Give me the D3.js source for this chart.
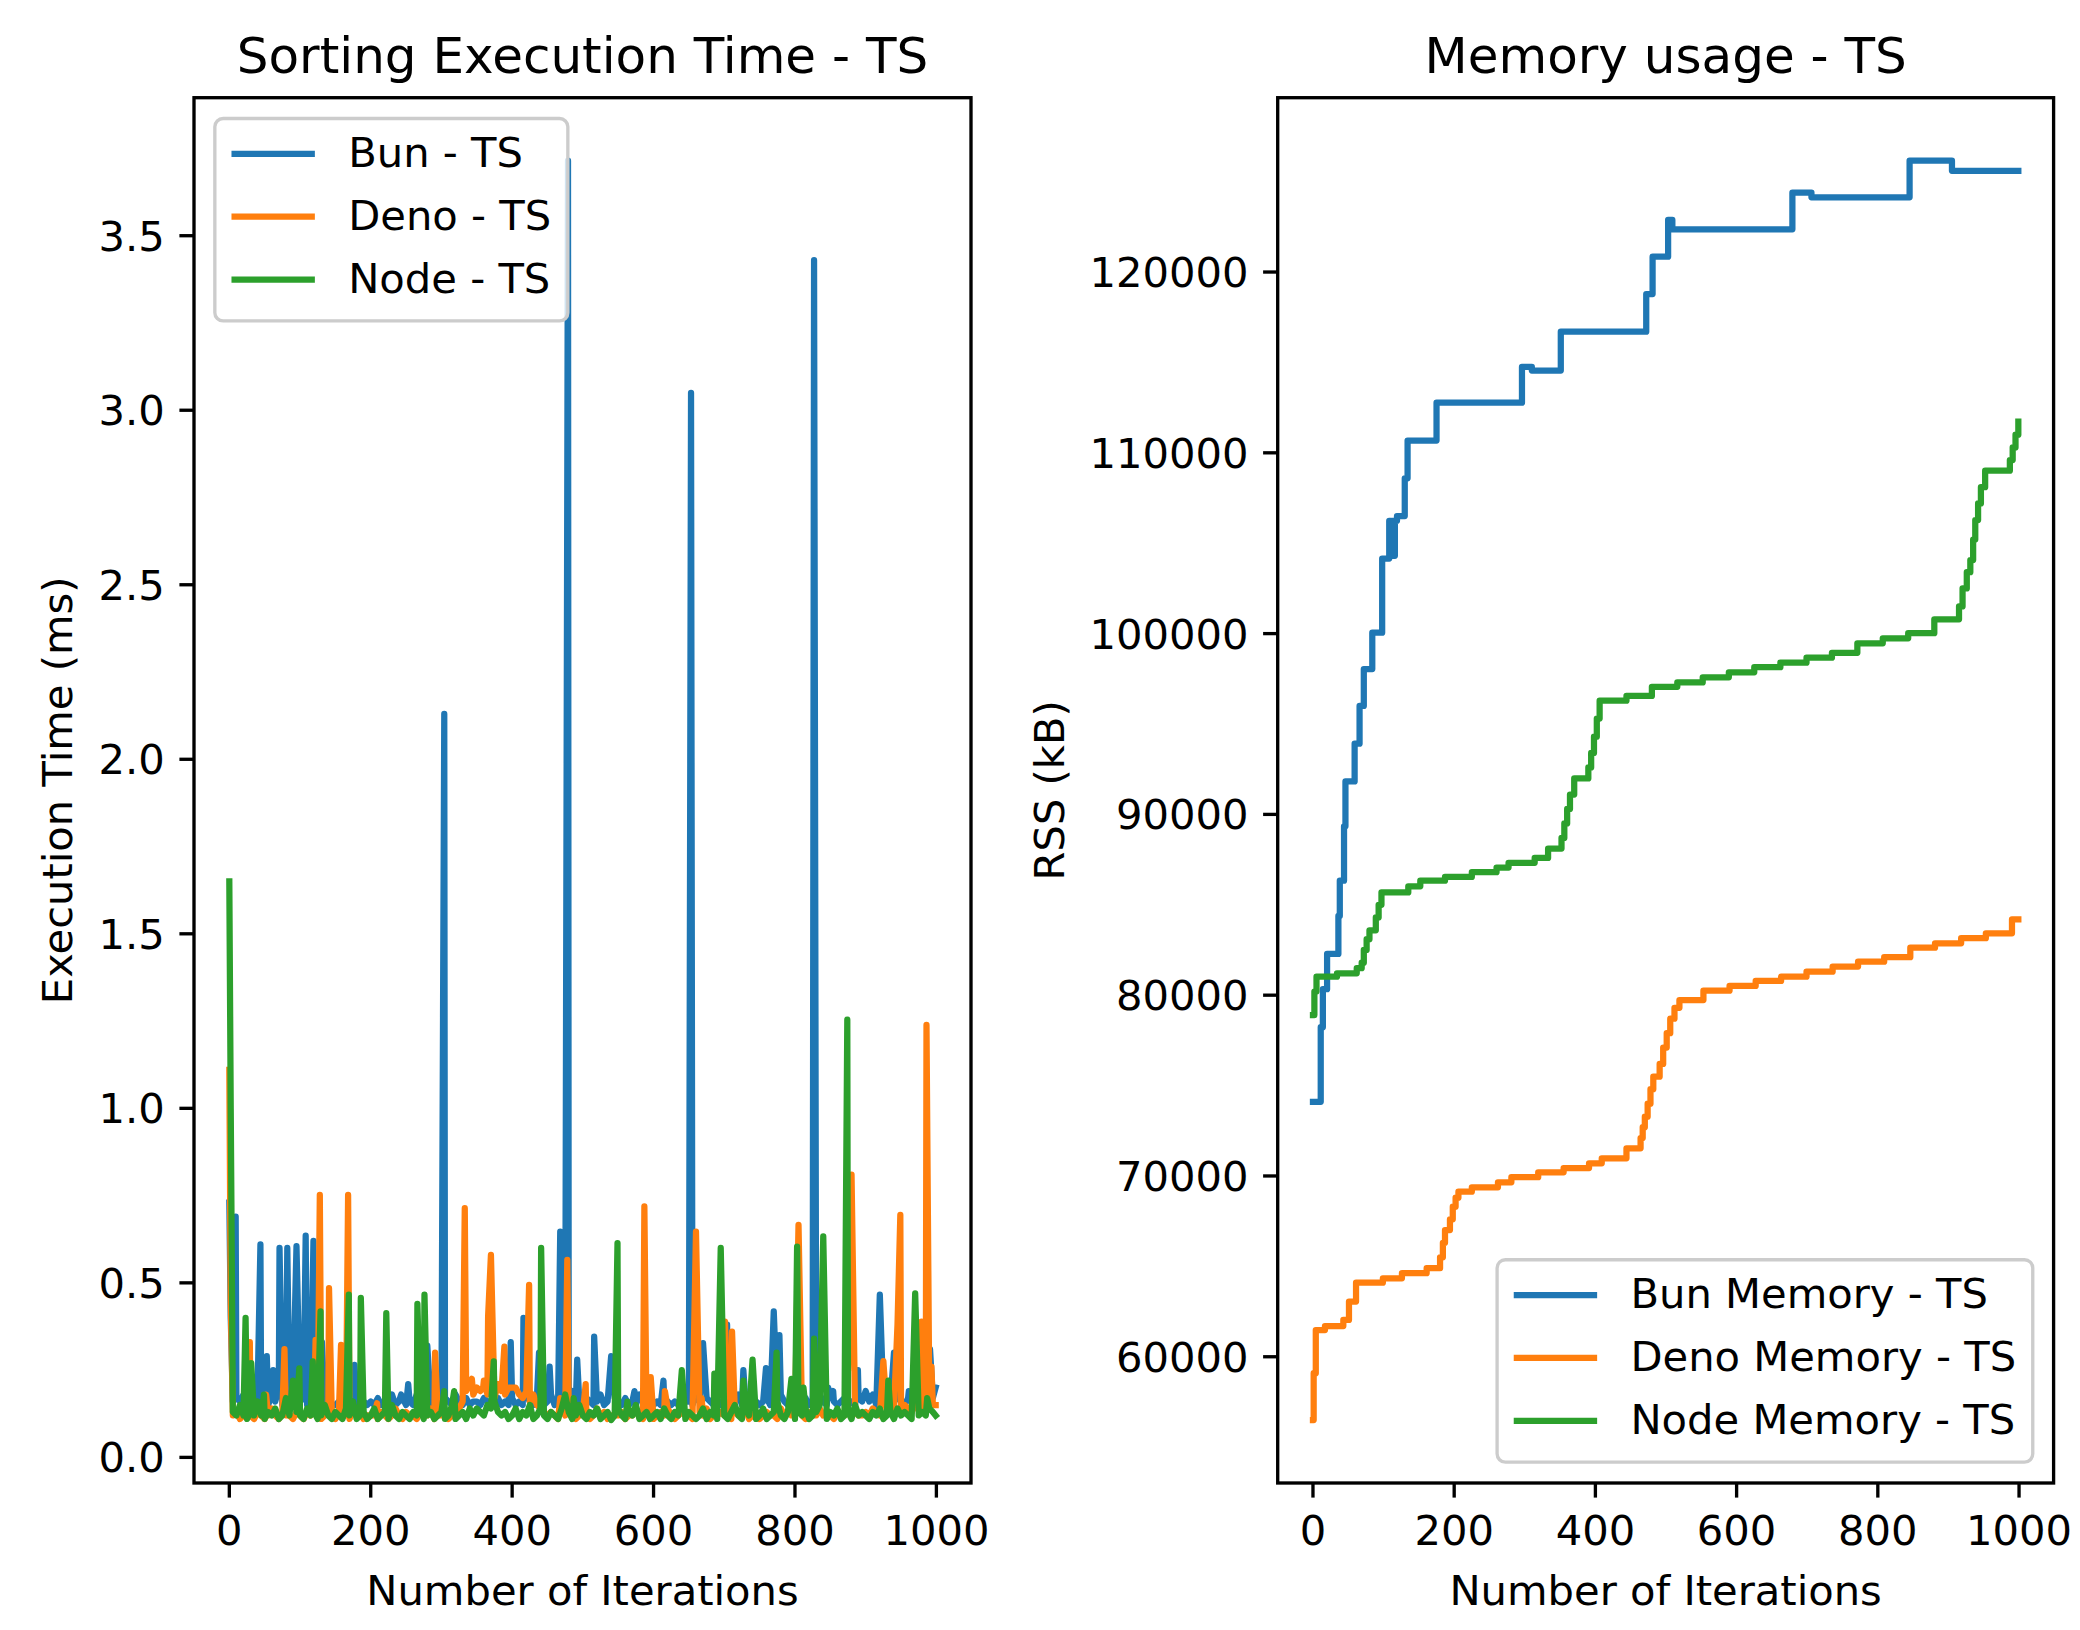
<!DOCTYPE html>
<html><head><meta charset="utf-8">
<script src="https://cdn.jsdelivr.net/npm/d3@7"></script>
<style>
body{margin:0;background:#fff}
svg{display:block}
text{font-family:"DejaVu Sans",sans-serif;fill:#000}
</style>
</head><body>
<svg id="chart" width="2080" height="1630"></svg>
<script>
// ---------- data ----------
const xTicks = [0, 200, 400, 600, 800, 1000];
const timeTicks = [0, 0.5, 1, 1.5, 2, 2.5, 3, 3.5];
const memTicks = [60000, 70000, 80000, 90000, 100000, 110000, 120000];
const timeLegend = ["Bun - TS", "Deno - TS", "Node - TS"];
const memLegend = ["Bun Memory - TS", "Deno Memory - TS", "Node Memory - TS"];
const colors = ["#1f77b4", "#ff7f0e", "#2ca02c"];
const baseStep = 5; // baseline samples every 5 iterations

const bunTimeBase = [
.16,.16,.17,.16,.18,.15,.17,.16,.19,.16,
.17,.15,.18,.16,.2,.15,.17,.16,.18,.15,
.16,.17,.15,.16,.15,.17,.16,.15,.16,.15,
.15,.16,.15,.17,.15,.16,.15,.15,.16,.15,
.16,.15,.17,.15,.16,.15,.18,.15,.16,.17,
.15,.16,.15,.18,.16,.15,.19,.15,.17,.16,
.15,.17,.16,.15,.18,.16,.15,.17,.15,.16,
.16,.15,.17,.16,.15,.16,.17,.15,.16,.15,
.17,.15,.16,.15,.18,.16,.15,.17,.16,.15,
.16,.18,.15,.16,.17,.15,.16,.19,.15,.16,
.15,.17,.16,.15,.16,.18,.15,.16,.15,.17,
.16,.15,.17,.15,.16,.15,.18,.16,.15,.16,
.15,.16,.15,.17,.16,.15,.16,.15,.17,.16,
.16,.15,.18,.16,.15,.17,.16,.15,.16,.15,
.17,.16,.15,.16,.18,.15,.16,.17,.15,.16,
.15,.16,.17,.15,.16,.15,.18,.16,.15,.17,
.16,.15,.16,.17,.15,.16,.15,.18,.16,.15,
.17,.16,.15,.16,.17,.15,.16,.15,.17,.16,
.15,.16,.18,.15,.16,.17,.15,.16,.15,.17,
.16,.15,.17,.16,.15,.18,.16,.17,.16,.17];
const bunTimeSpikes = [[0,0.73],[2,0.4],[9,0.69],[44,0.61],[53,0.29],[62,0.25],[71,0.6],[82,0.6],[95,0.605],[108,0.635],[119,0.62],[131,0.33],[177,0.265],[243,0.18],[253,0.21],[280,0.32],[304,2.13],[398,0.33],[416,0.4],[438,0.3],[453,0.26],[468,0.647],[479,3.715],[492,0.28],[516,0.346],[540,0.29],[573,0.19],[614,0.22],[653,3.05],[670,0.327],[704,0.38],[727,0.25],[759,0.256],[770,0.418],[778,0.35],[827,3.43],[834,0.29],[847,0.2],[854,0.19],[889,0.25],[900,0.19],[920,0.466],[940,0.3],[961,0.19],[991,0.31],[999,0.2]];

const denoTimeBase = [
.12,.12,.13,.11,.12,.14,.12,.11,.13,.12,
.11,.12,.14,.12,.11,.13,.12,.12,.11,.13,
.12,.11,.13,.12,.14,.12,.11,.12,.13,.12,
.11,.13,.12,.12,.11,.14,.12,.13,.11,.12,
.12,.12,.11,.13,.12,.11,.12,.14,.12,.11,
.13,.12,.12,.11,.13,.12,.12,.14,.11,.12,
.12,.13,.11,.12,.12,.14,.16,.19,.21,.18,
.2,.19,.22,.18,.2,.17,.21,.19,.18,.2,
.19,.2,.18,.17,.19,.16,.18,.15,.14,.13,
.12,.13,.12,.11,.14,.12,.13,.12,.11,.12,
.13,.12,.11,.12,.14,.12,.13,.11,.12,.12,
.12,.13,.11,.12,.12,.14,.12,.11,.13,.12,
.11,.12,.13,.12,.14,.12,.11,.12,.13,.12,
.12,.11,.12,.13,.12,.14,.11,.12,.12,.13,
.12,.12,.11,.13,.12,.12,.14,.11,.12,.13,
.11,.12,.13,.12,.12,.11,.14,.12,.13,.12,
.12,.13,.12,.11,.13,.12,.12,.14,.12,.13,
.12,.11,.13,.12,.12,.14,.12,.13,.12,.12,
.13,.12,.14,.13,.12,.14,.13,.15,.14,.13,
.14,.15,.14,.13,.15,.14,.15,.14,.16,.15];
const denoTimeSpikes = [[0,1.11],[2,0.45],[29,0.33],[52,0.18],[78,0.31],[122,0.337],[128,0.752],[141,0.485],[158,0.322],[168,0.752],[209,0.155],[291,0.3],[333,0.714],[343,0.225],[359,0.2],[366,0.404],[370,0.58],[389,0.317],[400,0.2],[424,0.494],[468,0.17],[478,0.566],[504,0.21],[587,0.719],[596,0.23],[616,0.19],[660,0.647],[668,0.17],[701,0.389],[711,0.36],[805,0.666],[875,0.25],[880,0.81],[925,0.276],[945,0.38],[949,0.695],[979,0.389],[986,1.239],[993,0.26],[999,0.15]];

const nodeTimeBase = [
.12,.13,.12,.15,.12,.11,.13,.12,.16,.12,
.11,.13,.12,.14,.11,.12,.17,.12,.11,.13,
.12,.11,.14,.12,.13,.11,.12,.15,.12,.11,
.13,.12,.11,.14,.12,.16,.11,.12,.13,.11,
.12,.14,.11,.12,.13,.11,.15,.12,.11,.13,
.12,.11,.13,.12,.14,.11,.12,.13,.11,.12,
.13,.11,.12,.15,.11,.12,.13,.11,.14,.12,
.14,.13,.12,.15,.14,.16,.13,.12,.13,.11,
.12,.14,.11,.13,.12,.15,.11,.12,.14,.12,
.11,.13,.12,.11,.14,.12,.13,.11,.12,.15,
.12,.11,.13,.12,.14,.11,.12,.13,.107,.12,
.14,.12,.11,.13,.12,.15,.11,.12,.13,.11,
.12,.13,.11,.14,.12,.11,.13,.12,.16,.11,
.13,.12,.11,.12,.14,.11,.13,.12,.11,.14,
.12,.11,.13,.15,.12,.11,.14,.12,.13,.11,
.12,.14,.11,.12,.13,.16,.12,.11,.13,.12,
.11,.13,.12,.14,.11,.12,.13,.15,.12,.11,
.13,.12,.14,.11,.12,.13,.11,.15,.12,.13,
.12,.11,.13,.12,.14,.11,.12,.13,.11,.14,
.12,.13,.12,.11,.14,.12,.13,.12,.14,.13];
const nodeTimeSpikes = [[0,1.65],[2,1.0],[23,0.4],[31,0.27],[49,0.18],[90,0.22],[99,0.255],[118,0.275],[129,0.418],[169,0.466],[186,0.457],[222,0.413],[266,0.44],[276,0.466],[304,0.19],[318,0.19],[374,0.275],[441,0.6],[475,0.18],[487,0.17],[549,0.614],[563,0.16],[640,0.25],[686,0.24],[695,0.6],[727,0.22],[740,0.28],[774,0.3],[795,0.225],[803,0.604],[812,0.2],[827,0.34],[840,0.633],[874,1.254],[932,0.22],[970,0.47],[987,0.17],[999,0.12]];

// memory: [iteration where value changes, RSS kB]
const bunMem = [[0,74100],[11,78230],[14,80330],[20,82280],[36,84380],[38,86330],[44,89340],[46,91820],[59,93910],[66,96000],[72,98040],[84,100050],[98,104150],[108,106240],[110,104300],[112,106240],[114,104300],[116,106240],[119,106500],[130,108590],[134,110680],[175,112770],[296,114750],[310,114550],[351,116700],[472,118780],[481,120850],[503,122880],[509,122360],[679,124390],[706,124130],[845,126160],[905,125600],[999,125600]];
const denoMem = [[0,56500],[1,59090],[4,61480],[17,61700],[43,62040],[51,63050],[61,64100],[99,64340],[126,64620],[161,64900],[180,65500],[184,66300],[187,67010],[194,67600],[198,68300],[202,68800],[206,69130],[225,69370],[262,69650],[281,69930],[319,70200],[355,70440],[391,70700],[409,70980],[444,71530],[464,72100],[467,72700],[470,73280],[474,74000],[478,74800],[482,75490],[491,76200],[496,77100],[501,77900],[506,78700],[512,79300],[519,79730],[553,80250],[590,80510],[627,80790],[663,81020],[699,81300],[736,81580],[772,81850],[809,82100],[846,82630],[881,82870],[918,83150],[953,83420],[990,84200],[999,84200]];
const nodeMem = [[0,78900],[2,80200],[5,81020],[34,81210],[62,81490],[69,81800],[72,82500],[76,83100],[80,83590],[89,84300],[93,85000],[97,85680],[135,86020],[152,86330],[187,86540],[225,86800],[260,87060],[277,87320],[314,87590],[333,88110],[352,88700],[356,89500],[360,90300],[364,91100],[370,91990],[390,92600],[394,93400],[398,94300],[402,95300],[406,96290],[444,96550],[480,97060],[516,97300],[552,97580],[589,97860],[625,98140],[662,98390],[699,98670],[735,98940],[771,99460],[807,99740],[843,100020],[880,100790],[915,101500],[920,102500],[926,103400],[931,104070],[935,105200],[938,106280],[942,107200],[946,108100],[952,109010],[987,109600],[991,110300],[995,111000],[999,111720]];

// ---------- helpers ----------
function timeSeries(base, spikes){
  const m = new Map();
  base.forEach((v,i)=>m.set(i*baseStep, v));
  spikes.forEach(([x,v])=>m.set(x, v));
  return Array.from(m, ([x,v])=>({x, v})).sort((a,b)=>a.x-b.x);
}
function stepSeries(arr){ return arr.map(([x,v])=>({x, v})); }
function padded(ext){ const r = ext[1]-ext[0]; return [ext[0]-0.05*r, ext[1]+0.05*r]; }

const FS = 41.67;          // 10pt @ 300dpi
const LW = 6.25;           // 1.5pt
const SPINE = 3.33;        // 0.8pt
const TICKLEN = 14.6, TICKPAD = 14.6;

const svg = d3.select("#chart");

function drawPanel(opt){
  const {left,right,top,bottom,series,yTicks,yFmt,title,ylabel,ylabelX,curve,legend,legendPos,id} = opt;
  const all = series.flat();
  const x = d3.scaleLinear().domain(padded(d3.extent(all,d=>d.x))).range([left,right]);
  const y = d3.scaleLinear().domain(padded(d3.extent(all,d=>d.v))).range([bottom,top]);
  const g = svg.append("g");
  g.append("clipPath").attr("id","clip"+id).append("rect")
    .attr("x",left).attr("y",top).attr("width",right-left).attr("height",bottom-top);
  const line = d3.line().x(d=>x(d.x)).y(d=>y(d.v)).curve(curve);
  const lg = g.append("g").attr("clip-path","url(#clip"+id+")");
  series.forEach((s,i)=>{
    lg.append("path").datum(s).attr("d",line).attr("fill","none")
      .attr("stroke",colors[i]).attr("stroke-width",LW)
      .attr("stroke-linejoin","round").attr("stroke-linecap","square");
  });
  // spines
  g.append("rect").attr("x",left).attr("y",top).attr("width",right-left).attr("height",bottom-top)
    .attr("fill","none").attr("stroke","#000").attr("stroke-width",SPINE).attr("stroke-linejoin","miter");
  // x ticks
  xTicks.forEach(t=>{
    const px = x(t);
    g.append("line").attr("x1",px).attr("x2",px).attr("y1",bottom).attr("y2",bottom+TICKLEN)
      .attr("stroke","#000").attr("stroke-width",SPINE);
    g.append("text").attr("x",px).attr("y",1545).attr("text-anchor","middle")
      .attr("font-size",FS).text(String(t));
  });
  yTicks.forEach(t=>{
    const py = y(t);
    g.append("line").attr("x1",left-TICKLEN).attr("x2",left).attr("y1",py).attr("y2",py)
      .attr("stroke","#000").attr("stroke-width",SPINE);
    g.append("text").attr("x",left-TICKLEN-TICKPAD).attr("y",py+15).attr("text-anchor","end")
      .attr("font-size",FS).text(yFmt(t));
  });
  // labels
  g.append("text").attr("x",(left+right)/2).attr("y",73).attr("text-anchor","middle")
    .attr("font-size",50).text(title);
  g.append("text").attr("x",(left+right)/2).attr("y",1605).attr("text-anchor","middle")
    .attr("font-size",FS).text("Number of Iterations");
  g.append("text").attr("transform",`translate(${ylabelX},${(top+bottom)/2}) rotate(-90)`)
    .attr("text-anchor","middle").attr("font-size",FS).text(ylabel);
  // legend
  const lgG = g.append("g");
  const texts = legend.map((t,i)=>lgG.append("text").attr("font-size",FS).text(t));
  const maxW = d3.max(texts, t=>t.node().getComputedTextLength());
  const pad = 0.4*FS, hl = 2*FS, htp = 0.8*FS, bap = 0.5*FS;
  const w = pad + hl + htp + maxW + pad;
  const h = 202.4;
  let bx, by;
  if (legendPos==="upper left"){ bx = left+bap; by = top+bap; }
  else { bx = right-bap-w; by = bottom-bap-h; }
  lgG.insert("rect",":first-child").attr("x",bx).attr("y",by).attr("width",w).attr("height",h)
    .attr("rx",8.3).attr("ry",8.3).attr("fill","#fff").attr("fill-opacity",0.8)
    .attr("stroke","#cccccc").attr("stroke-width",SPINE);
  legend.forEach((t,i)=>{
    const ly = by + 35.4 + i*62.8;
    lgG.append("line").attr("x1",bx+pad+3.1).attr("x2",bx+pad+hl-3.1).attr("y1",ly).attr("y2",ly)
      .attr("stroke",colors[i]).attr("stroke-width",LW).attr("stroke-linecap","square");
    texts[i].attr("x",bx+pad+hl+htp).attr("y",ly+13);
  });
}

drawPanel({
  id:"t", left:194, right:971, top:97.7, bottom:1483,
  series:[timeSeries(bunTimeBase,bunTimeSpikes), timeSeries(denoTimeBase,denoTimeSpikes), timeSeries(nodeTimeBase,nodeTimeSpikes)],
  yTicks:timeTicks, yFmt:d3.format(".1f"),
  title:"Sorting Execution Time - TS", ylabel:"Execution Time (ms)", ylabelX:72,
  curve:d3.curveLinear, legend:timeLegend, legendPos:"upper left"
});
drawPanel({
  id:"m", left:1277.7, right:2053.6, top:97.7, bottom:1483,
  series:[stepSeries(bunMem), stepSeries(denoMem), stepSeries(nodeMem)],
  yTicks:memTicks, yFmt:d=>String(d),
  title:"Memory usage - TS", ylabel:"RSS (kB)", ylabelX:1064,
  curve:d3.curveStepAfter, legend:memLegend, legendPos:"lower right"
});
</script>
</body></html>
